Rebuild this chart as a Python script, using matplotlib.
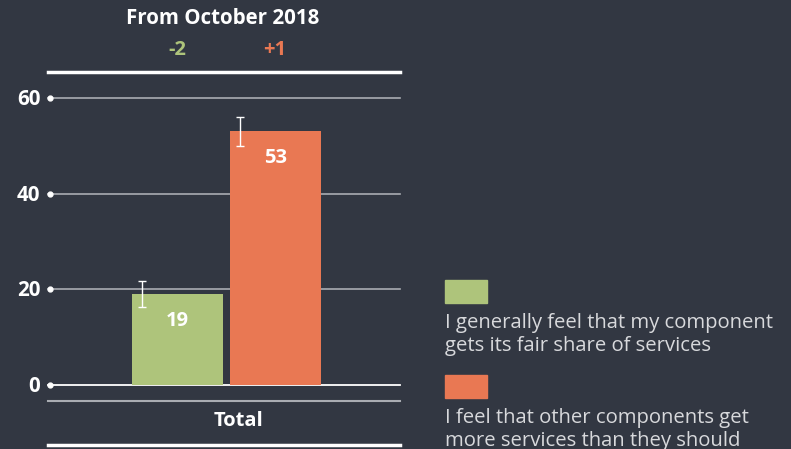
import numpy as np
import matplotlib.pyplot as plt

plt.rcParams['font.family'] = ['Open Sans', 'DejaVu Sans']

bg = '#323742'
categories = ['I generally feel that my component\ngets its fair share of services',
              'I feel that other components get\nmore services than they should']
values = [19, 53]
errors = [2.7, 3.0]
changes = ['-2', '+1']
colors = ['#aec47b', '#e97853']
yticks = [0, 20, 40, 60]
group = 'Total'
header = 'From October 2018'

W, H = 791, 449
fig = plt.figure(figsize=(W / 100, H / 100), dpi=100, facecolor=bg)

def fx(px):
    return px / W

def fy(py):
    return 1 - py / H

ax = fig.add_axes([fx(48), fy(385), fx(352), fy(98) - fy(385)])
ax.set_facecolor(bg)
for s in ax.spines.values():
    s.set_visible(False)

x = np.arange(len(values))
width = 0.93
ax.set_xlim(-1.321, -1.321 + 352 / 98)
ax.set_ylim(0, 60)

for t in yticks:
    c = 'white' if t == 0 else '#a9acb2'
    ax.axhline(t, color=c, lw=1.3 if t == 0 else 1.2, zorder=1, clip_on=False)
    ax.plot([-1.30], [t], 'o', color='white', ms=3.5, clip_on=False, zorder=3)
    ax.text(-1.40, t - 0.3, str(t), color='white', fontsize=14.8, fontweight='bold',
            ha='right', va='center')

ax.bar(x, values, width=width, color=colors, zorder=2)
ax.errorbar(x - width / 2 + 0.1, values, yerr=errors, fmt='none', ecolor='white',
            elinewidth=1, capsize=3, capthick=1, zorder=4)
for xi, v in zip(x, values):
    ax.text(xi, v - 5.6, str(v), color='white', fontsize=14.5, fontweight='bold',
            ha='center', va='center', zorder=5)
ax.set_xticks([])
ax.set_yticks([])

fig.text(fx(223), fy(19), header, color='white', fontsize=14.8, fontweight='bold',
         ha='center', va='center')
for xi, ch, c in zip([177, 275], changes, colors):
    fig.text(fx(xi), fy(50), ch, color=c, fontsize=14.5, fontweight='bold',
             ha='center', va='center')

fig.add_artist(plt.Line2D([fx(48), fx(400)], [fy(72), fy(72)], color='white', lw=2.5))
fig.add_artist(plt.Line2D([fx(48), fx(400)], [fy(401), fy(401)], color='#a9acb2', lw=1.5))
fig.add_artist(plt.Line2D([fx(48), fx(400)], [fy(445), fy(445)], color='white', lw=2.5))
fig.text(fx(238), fy(421), group, color='white', fontsize=14.5, fontweight='bold',
         ha='center', va='center')

for i, (lab, c) in enumerate(zip(categories, colors)):
    top = 280 + i * 95
    fig.add_artist(plt.Rectangle((fx(445), fy(top + 23)), fx(42), fy(top) - fy(top + 23),
                                 color=c, transform=fig.transFigure))
    fig.text(fx(445), fy(top + 33), lab, color='#d8d9dc', fontsize=14.6,
             ha='left', va='top', linespacing=1.2)

fig.savefig('out.png', dpi=100, facecolor=bg)
